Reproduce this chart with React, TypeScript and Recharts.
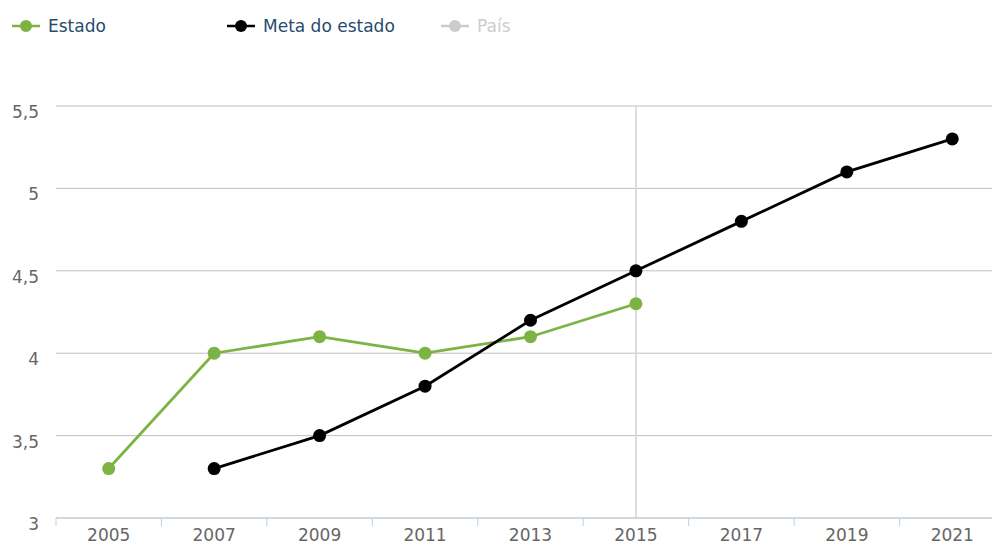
import React from "react";
import {
  CartesianGrid,
  Line,
  LineChart,
  ReferenceLine,
  XAxis,
  YAxis
} from "recharts";

const years = ["2005", "2007", "2009", "2011", "2013", "2015", "2017", "2019", "2021"];
const estado = [3.3, 4.0, 4.1, 4.0, 4.1, 4.3, null, null, null];
const metaEstado = [null, 3.3, 3.5, 3.8, 4.2, 4.5, 4.8, 5.1, 5.3];
const yTicks = [3, 3.5, 4, 4.5, 5, 5.5];

const GREEN = "#7cb342";
const FONT = "'DejaVu Sans', Verdana, sans-serif";

const data = years.map((year, i) => ({
  year,
  estado: estado[i],
  meta: metaEstado[i]
}));

const legendItems = [
  { label: "Estado", color: GREEN, text: "#274b6d", left: 12 },
  { label: "Meta do estado", color: "#000", text: "#274b6d", left: 227 },
  { label: "País", color: "#ccc", text: "#ccc", left: 441 }
];

function XTick({ x, y, payload }: any) {
  const edge = x - (payload.offset || 0);
  return (
    <g>
      <line x1={edge} x2={edge} y1={y - 8} y2={y} stroke="#c0d0e0" strokeWidth={1} />
      <text x={x} y={y} dy={15} textAnchor="middle" fill="#666" fontSize={17} fontFamily={FONT}>
        {payload.value}
      </text>
    </g>
  );
}

function YTick({ y, payload }: any) {
  return (
    <text x={39} y={y} dy={12} textAnchor="end" fill="#666" fontSize={17} fontFamily={FONT}>
      {String(payload.value).replace(".", ",")}
    </text>
  );
}

export default function App() {
  return (
    <div
      style={{
        position: "absolute",
        left: 0,
        top: 0,
        width: 992,
        height: 545,
        overflow: "hidden",
        background: "#fff",
        fontFamily: FONT
      }}
    >
      {legendItems.map((item) => (
        <div
          key={item.label}
          style={{
            position: "absolute",
            top: 16,
            left: item.left,
            height: 20,
            display: "flex",
            alignItems: "center",
            fontSize: 17,
            color: item.text,
            whiteSpace: "nowrap"
          }}
        >
          <svg width={28} height={16} style={{ marginRight: 8 }}>
            <line x1={0} x2={28} y1={8} y2={8} stroke={item.color} strokeWidth={2.5} />
            <circle cx={14} cy={8} r={6} fill={item.color} />
          </svg>
          {item.label}
        </div>
      ))}
      <LineChart
        width={1005}
        height={545}
        data={data}
        margin={{ top: 106, right: 0, bottom: 0, left: 0 }}
      >
        <CartesianGrid vertical={false} stroke="#c0c0c0" />
        <XAxis
          dataKey="year"
          scale="band"
          axisLine={{ stroke: "#c0d0e0" }}
          tickLine={false}
          tickSize={8}
          tickMargin={0}
          height={27}
          interval={0}
          tick={<XTick />}
        />
        <YAxis
          domain={[3, 5.5]}
          ticks={yTicks}
          width={56}
          axisLine={false}
          tickLine={false}
          tick={<YTick />}
        />
        <ReferenceLine x="2015" stroke="#dcdcdc" strokeWidth={2} />
        <Line
          dataKey="estado"
          stroke={GREEN}
          strokeWidth={2.8}
          dot={{ r: 6.5, fill: GREEN, stroke: "none" }}
          activeDot={false}
          isAnimationActive={false}
        />
        <Line
          dataKey="meta"
          stroke="#000"
          strokeWidth={2.8}
          dot={{ r: 6.5, fill: "#000", stroke: "none" }}
          activeDot={false}
          isAnimationActive={false}
        />
      </LineChart>
    </div>
  );
}
